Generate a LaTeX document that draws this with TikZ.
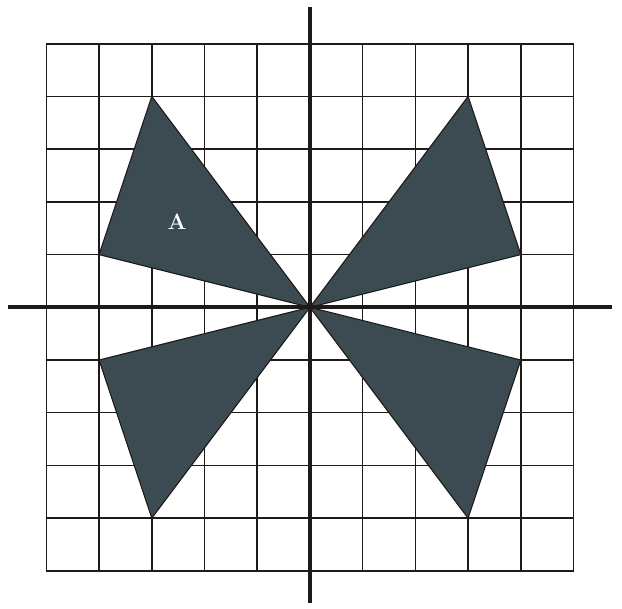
\documentclass[tikz,border=0pt]{standalone}
\usepackage{tikz}
\definecolor{slate}{HTML}{3C4A51}
\definecolor{inkdark}{HTML}{1E1A18}

\begin{document}
\begin{tikzpicture}[scale=1.0]
  \useasboundingbox (-5.88,-5.71) rectangle (5.92,5.83);
  % Grid
  \draw[inkdark, line width=0.8pt] (-5,-5) grid (5,5);

  % Shaded triangles
  \tikzset{wing/.style={fill=slate, draw=inkdark, line width=0.6pt, line join=round}}
  \coordinate (O) at (0,0);
  \draw[wing] (O) -- (-3,4) -- (-4,1) -- cycle;
  \draw[wing] (O) -- (3,4) -- (4,1) -- cycle;
  \draw[wing] (O) -- (-4,-1) -- (-3,-4) -- cycle;
  \draw[wing] (O) -- (4,-1) -- (3,-4) -- cycle;
  \node[white, font=\large\bfseries] (lblA) at (-2.52,1.63) {A};

  % Axes
  \draw[inkdark, line width=2.2pt] (-5.73,0) -- (5.73,0);
  \draw[inkdark, line width=2.2pt] (0,-5.6) -- (0,5.7);
\end{tikzpicture}
\end{document}
